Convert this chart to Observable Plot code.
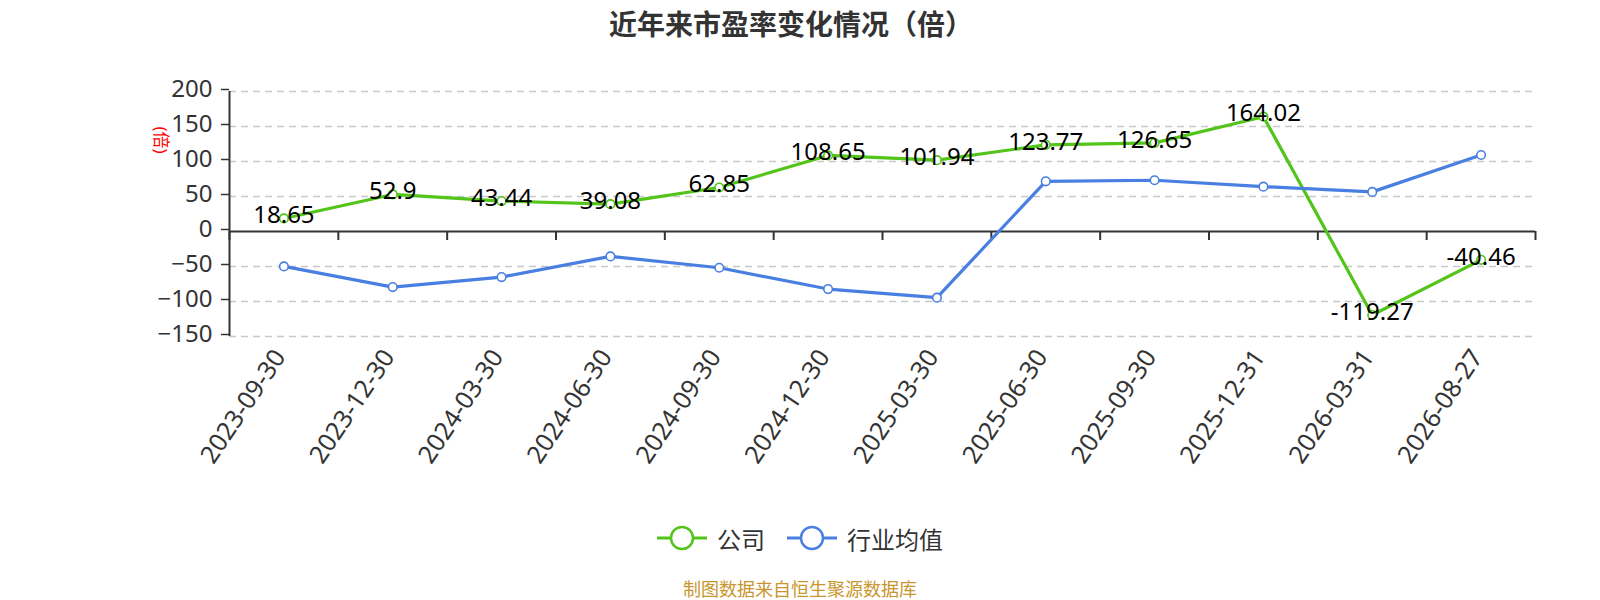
<!DOCTYPE html>
<html>
<head>
<meta charset="utf-8">
<script src="https://cdn.jsdelivr.net/npm/d3@7"></script>
<script src="https://cdn.jsdelivr.net/npm/@observablehq/plot@0.6"></script>
<style>
  html, body { margin: 0; padding: 0; background: #fff; }
  body { width: 1600px; height: 600px; overflow: hidden; font-family: "Noto Sans", "Noto Sans CJK SC", sans-serif; }
  #title { height: 50px; line-height: 46px; text-align: center; font-size: 28px; font-weight: bold; color: #333; font-family: "Noto Sans CJK SC", "Noto Sans", sans-serif; padding-right: 18px; }
  #chart svg { display: block; }
  #legend { height: 76px; display: flex; align-items: center; justify-content: center; font-size: 24px; color: #333; font-family: "Noto Sans CJK SC", sans-serif; }
  .item { display: flex; align-items: center; }
  .item svg { display: block; margin-right: 10px; }
  .gap { width: 22px; }
  #caption { height: 24px; line-height: 24px; text-align: center; font-size: 18px; color: #c8962d; font-family: "Noto Sans CJK SC", sans-serif; }
</style>
</head>
<body>
<div id="title">近年来市盈率变化情况（倍）</div>
<div id="chart"></div>
<div id="legend"></div>
<div id="caption">制图数据来自恒生聚源数据库</div>
<script>
const dates = ["2023-09-30","2023-12-30","2024-03-30","2024-06-30","2024-09-30","2024-12-30","2025-03-30","2025-06-30","2025-09-30","2025-12-31","2026-03-31","2026-08-27"];
const companyPE = [18.65, 52.9, 43.44, 39.08, 62.85, 108.65, 101.94, 123.77, 126.65, 164.02, -119.27, -40.46];
const industryPE = [-49.9, -79.4, -65.1, -35.6, -51.8, -82.2, -94.5, 71.7, 73.2, 64.1, 56.6, 109.3];
const yTicks = [-150, -100, -50, 0, 50, 100, 150, 200];
const seriesNames = ["公司", "行业均值"];
const colors = ["#52c41a", "#4a7fe2"];
const yUnit = "(倍)";

const rows = dates.map((d, i) => ({i, date: d, company: companyPE[i], industry: industryPE[i]}));
const xDomain = [-0.5, dates.length - 0.5];
const boundaries = d3.range(dates.length + 1).map(i => i - 0.5);

const chart = Plot.plot({
  width: 1600,
  height: 450,
  marginLeft: 229,
  marginRight: 65,
  marginTop: 41,
  marginBottom: 164,
  style: {fontFamily: '"Noto Sans", "Noto Sans CJK SC", sans-serif', color: "#333", background: "#fff"},
  x: {domain: xDomain, axis: null},
  y: {domain: [-150, 200], axis: null},
  marks: [
    Plot.gridY(yTicks.filter(d => d !== 0), {stroke: "#c8c8c8", strokeOpacity: 1, strokeWidth: 1.5, strokeDasharray: "7,5"}),
    Plot.axisY(yTicks, {tickSize: 8, tickPadding: 9, fontSize: 24, stroke: "#333", fill: "#333", strokeWidth: 1.5, dy: -2, label: null}),
    Plot.axisX(d3.range(dates.length), {anchor: "bottom", tickSize: 0, tickPadding: 16, tickRotate: -56, tickFormat: i => dates[i], fontSize: 25, fill: "#333", dx: -4, label: null}),
    Plot.ruleX([xDomain[0]], {stroke: "#333", strokeWidth: 2}),
    Plot.ruleY([0], {stroke: "#333", strokeWidth: 2}),
    Plot.ruleX(boundaries, {y1: 0, y2: 0, insetBottom: -9, stroke: "#333", strokeWidth: 2}),
    Plot.text([yUnit], {frameAnchor: "top-left", dx: -62, dy: 35, rotate: 90, fill: "red", fontSize: 17}),
    Plot.line(rows, {x: "i", y: "company", stroke: colors[0], strokeWidth: 3.2}),
    Plot.dot(rows, {x: "i", y: "company", r: 4.3, fill: "white", stroke: colors[0], strokeWidth: 1.6}),
    Plot.line(rows, {x: "i", y: "industry", stroke: colors[1], strokeWidth: 3.2}),
    Plot.dot(rows, {x: "i", y: "industry", r: 4.3, fill: "white", stroke: colors[1], strokeWidth: 1.6}),
    Plot.text(rows, {x: "i", y: "company", text: d => String(d.company), fontSize: 24, fill: "#000", dy: -3})
  ]
});
document.getElementById("chart").appendChild(chart);

const legend = document.getElementById("legend");
seriesNames.forEach((name, k) => {
  if (k > 0) { const g = document.createElement("div"); g.className = "gap"; legend.appendChild(g); }
  const item = document.createElement("div");
  item.className = "item";
  item.innerHTML = `<svg width="50" height="26"><line x1="0" y1="13" x2="50" y2="13" stroke="${colors[k]}" stroke-width="3"/><circle cx="25" cy="13" r="11" fill="white" stroke="${colors[k]}" stroke-width="2.5"/></svg><span>${name}</span>`;
  legend.appendChild(item);
});
</script>
</body>
</html>
